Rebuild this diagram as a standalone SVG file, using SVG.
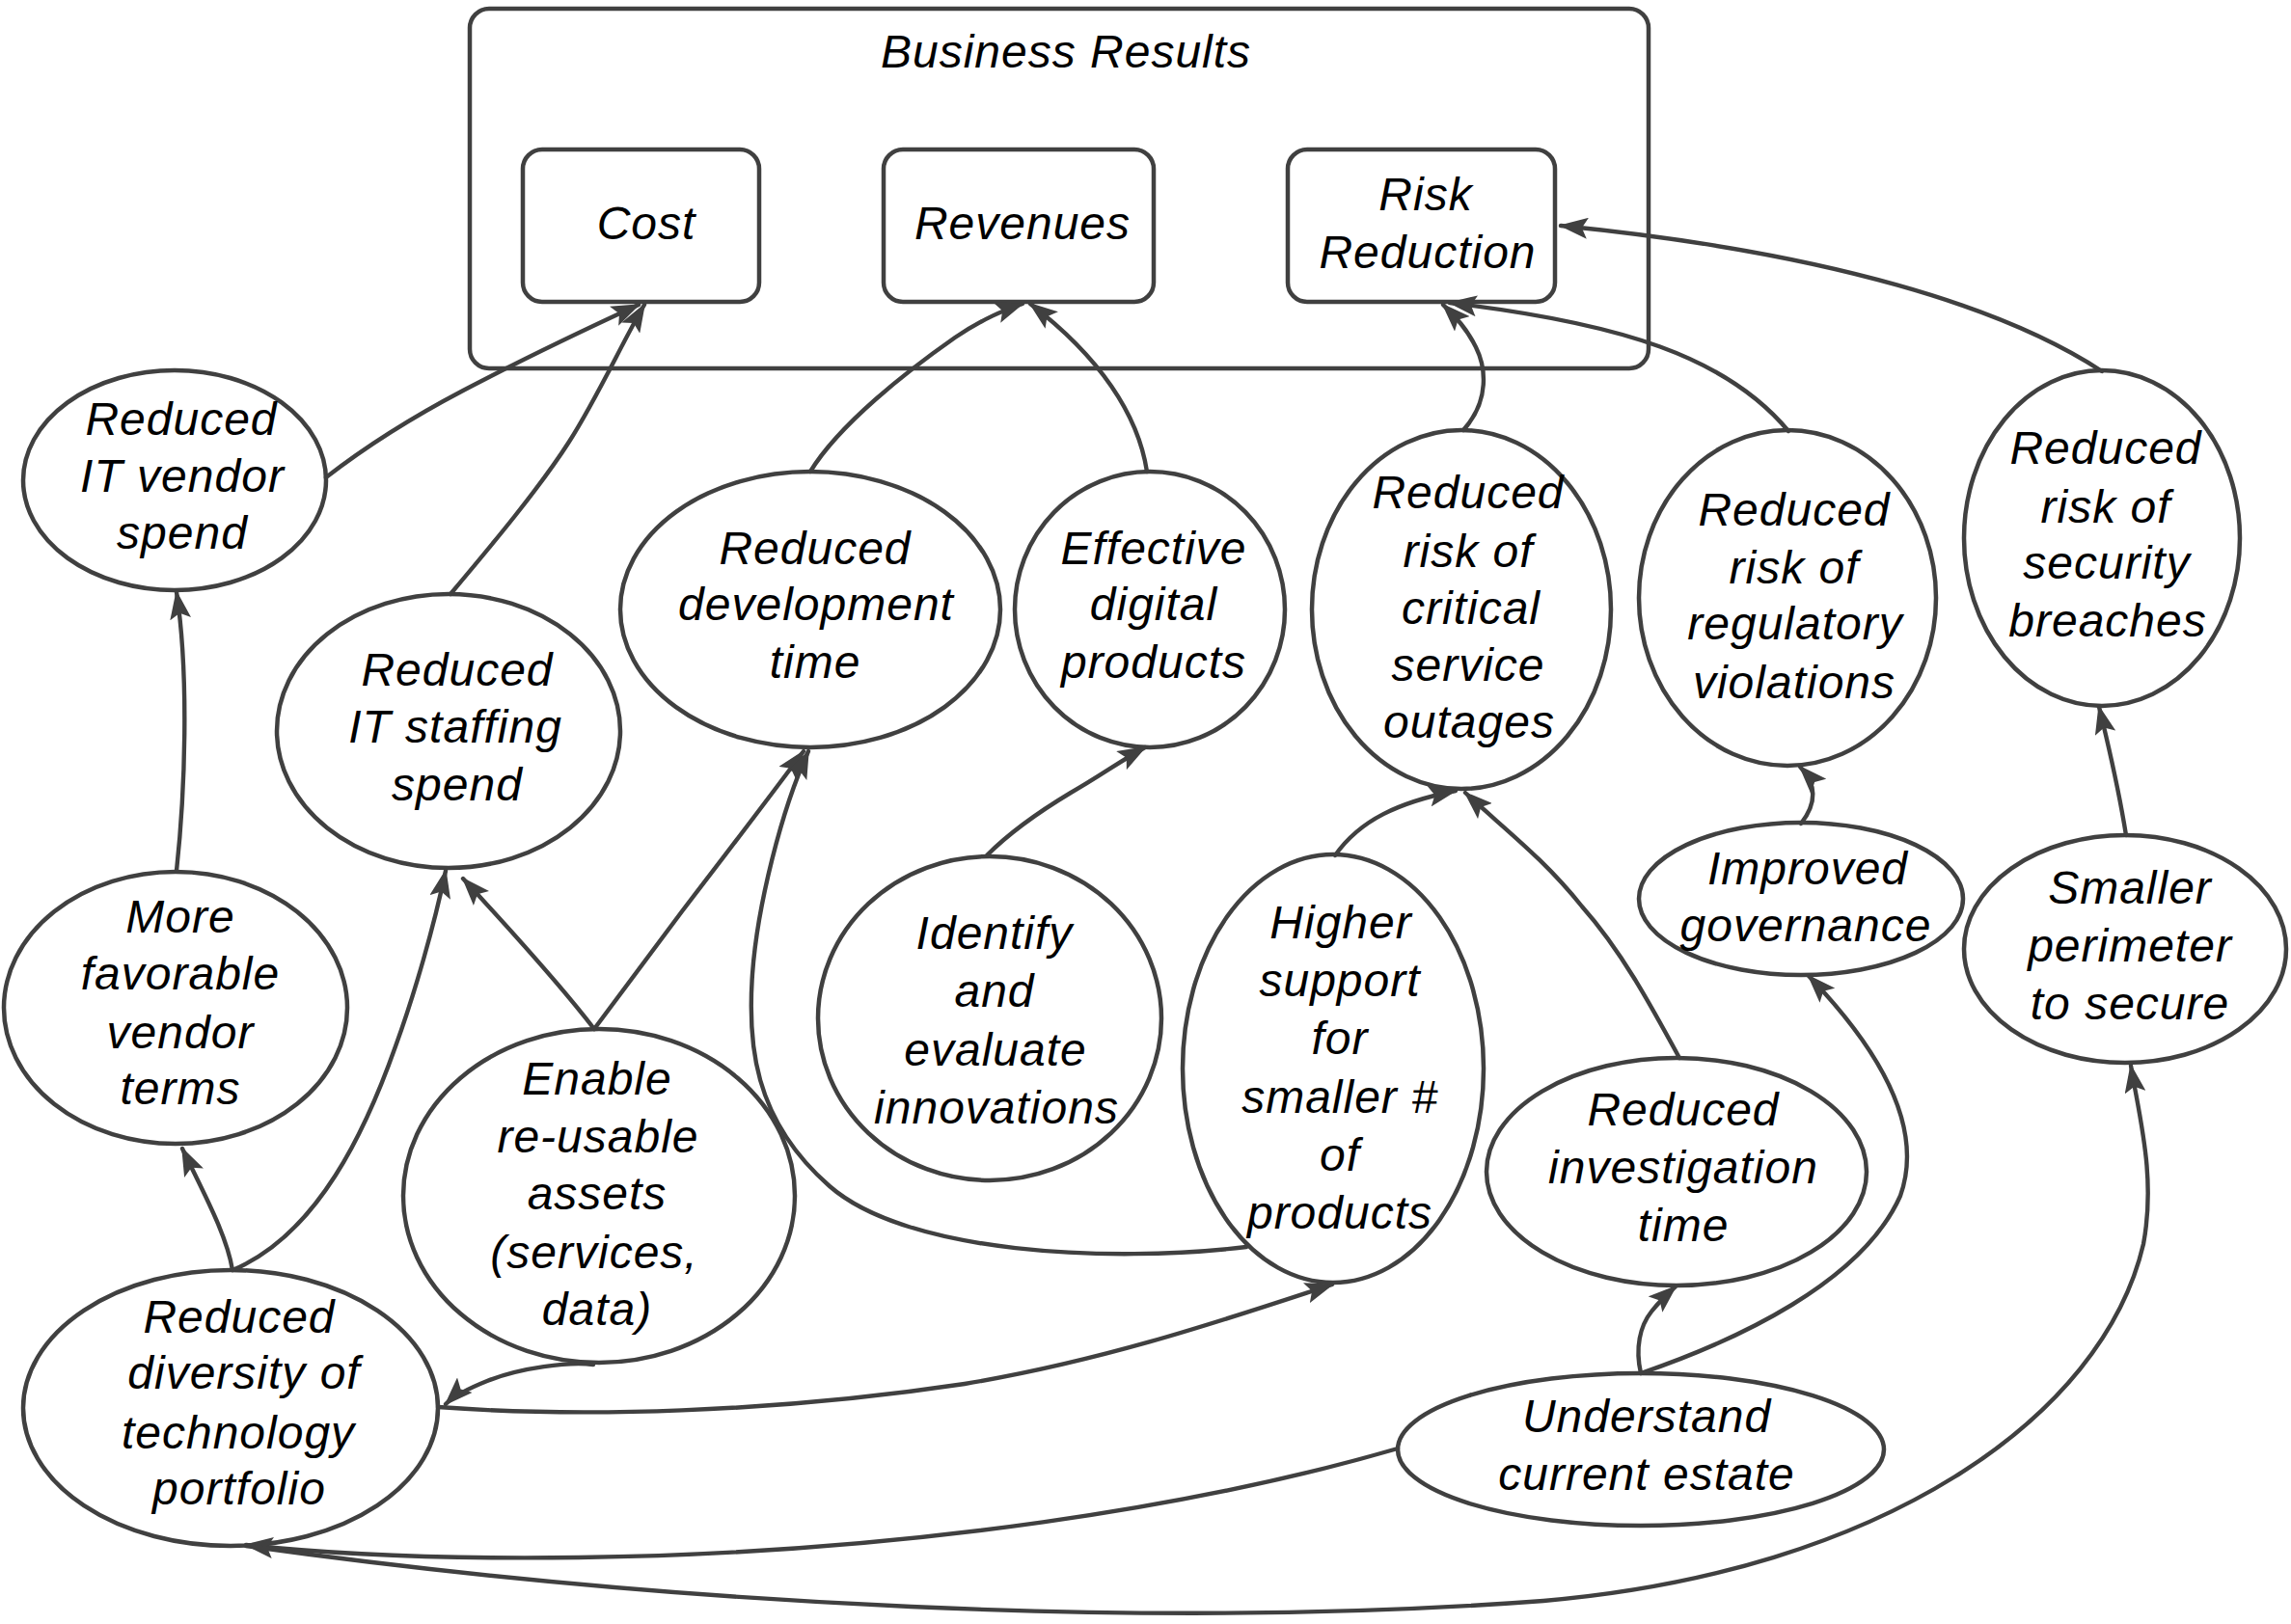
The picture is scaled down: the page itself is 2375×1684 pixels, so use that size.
<svg xmlns="http://www.w3.org/2000/svg" width="2375" height="1684" viewBox="0 0 2375 1684">
<defs>
<style>
.bg{fill:#ffffff}
.node{fill:#ffffff;stroke:#404040;stroke-width:4.5}
.frame{fill:none;stroke:#404040;stroke-width:4.5}
.edge{fill:none;stroke:#404040;stroke-width:4.4;stroke-linecap:round;marker-end:url(#arr)}
text{font-family:"Liberation Sans",Arial,sans-serif;font-style:italic;font-size:48px;fill:#000;text-anchor:middle;letter-spacing:1px}
</style>
<marker id="arr" viewBox="0 0 30 22" refX="28" refY="11" markerWidth="30" markerHeight="22" markerUnits="userSpaceOnUse" orient="auto">
<path d="M0,0 L30,11 L0,22 L6,11 z" fill="#404040"/>
</marker>
</defs>
<rect class="bg" x="0" y="0" width="2375" height="1684"/>

<g id="business-results">
<rect class="frame" x="487" y="9" width="1222" height="373" rx="20"/>
<text x="1105" y="70">Business Results</text>
</g>

<g id="cost">
<rect class="node" x="542" y="155" width="245" height="158" rx="20"/>
<text x="670" y="248">Cost</text>
</g>
<g id="revenues">
<rect class="node" x="916" y="155" width="280" height="158" rx="20"/>
<text x="1060" y="248">Revenues</text>
</g>
<g id="risk-reduction">
<rect class="node" x="1335" y="155" width="277" height="158" rx="20"/>
<text x="1478" y="218">Risk</text>
<text x="1480" y="278">Reduction</text>
</g>

<g id="vendor-spend">
<ellipse class="node" cx="181" cy="498" rx="157" ry="114"/>
<text x="188" y="451">Reduced</text>
<text x="189" y="510">IT vendor</text>
<text x="189" y="569">spend</text>
</g>
<g id="staffing-spend">
<ellipse class="node" cx="465" cy="758" rx="178" ry="142"/>
<text x="474" y="711">Reduced</text>
<text x="472" y="770">IT staffing</text>
<text x="474" y="830">spend</text>
</g>
<g id="dev-time">
<ellipse class="node" cx="840" cy="632" rx="197" ry="143"/>
<text x="845" y="585">Reduced</text>
<text x="846" y="643">development</text>
<text x="845" y="703">time</text>
</g>
<g id="digital-products">
<ellipse class="node" cx="1192" cy="632" rx="140" ry="143"/>
<text x="1196" y="585">Effective</text>
<text x="1196" y="643">digital</text>
<text x="1196" y="703">products</text>
</g>
<g id="service-outages">
<ellipse class="node" cx="1515" cy="632" rx="155" ry="186"/>
<text x="1522" y="527">Reduced</text>
<text x="1522" y="588">risk of</text>
<text x="1525" y="647">critical</text>
<text x="1522" y="706">service</text>
<text x="1523" y="765">outages</text>
</g>
<g id="regulatory-violations">
<ellipse class="node" cx="1853" cy="620" rx="154" ry="174"/>
<text x="1860" y="545">Reduced</text>
<text x="1860" y="605">risk of</text>
<text x="1861" y="663">regulatory</text>
<text x="1860" y="724">violations</text>
</g>
<g id="security-breaches">
<ellipse class="node" cx="2179" cy="558" rx="143" ry="174"/>
<text x="2183" y="481">Reduced</text>
<text x="2183" y="542">risk of</text>
<text x="2184" y="600">security</text>
<text x="2185" y="660">breaches</text>
</g>
<g id="improved-governance">
<ellipse class="node" cx="1867" cy="932" rx="168" ry="79"/>
<text x="1874" y="917">Improved</text>
<text x="1872" y="976">governance</text>
</g>
<g id="smaller-perimeter">
<ellipse class="node" cx="2203" cy="984" rx="167" ry="118"/>
<text x="2208" y="937">Smaller</text>
<text x="2208" y="997">perimeter</text>
<text x="2208" y="1057">to secure</text>
</g>
<g id="vendor-terms">
<ellipse class="node" cx="182" cy="1045" rx="178" ry="141"/>
<text x="187" y="967">More</text>
<text x="187" y="1026">favorable</text>
<text x="187" y="1087">vendor</text>
<text x="187" y="1145">terms</text>
</g>
<g id="reusable-assets">
<ellipse class="node" cx="621" cy="1240" rx="203" ry="173"/>
<text x="619" y="1135">Enable</text>
<text x="620" y="1195">re-usable</text>
<text x="619" y="1254">assets</text>
<text x="616" y="1315">(services,</text>
<text x="619" y="1374">data)</text>
</g>
<g id="innovations">
<ellipse class="node" cx="1026" cy="1056" rx="178" ry="168"/>
<text x="1031" y="984">Identify</text>
<text x="1031" y="1044">and</text>
<text x="1032" y="1105">evaluate</text>
<text x="1033" y="1165">innovations</text>
</g>
<g id="higher-support">
<ellipse class="node" cx="1382" cy="1108" rx="156" ry="222"/>
<text x="1390" y="973">Higher</text>
<text x="1389" y="1033">support</text>
<text x="1389" y="1093">for</text>
<text x="1389" y="1154">smaller #</text>
<text x="1389" y="1214">of</text>
<text x="1389" y="1274">products</text>
</g>
<g id="investigation-time">
<ellipse class="node" cx="1738" cy="1215" rx="197" ry="118"/>
<text x="1745" y="1167">Reduced</text>
<text x="1745" y="1227">investigation</text>
<text x="1745" y="1287">time</text>
</g>
<g id="current-estate">
<ellipse class="node" cx="1701" cy="1503" rx="252" ry="79"/>
<text x="1707" y="1485">Understand</text>
<text x="1707" y="1545">current estate</text>
</g>
<g id="technology-diversity">
<ellipse class="node" cx="239" cy="1460" rx="215" ry="143"/>
<text x="248" y="1382">Reduced</text>
<text x="253" y="1440">diversity of</text>
<text x="247" y="1502">technology</text>
<text x="248" y="1560">portfolio</text>
</g>

<g id="connectors">
<path class="edge" d="M338,495 Q400,447 480,405 T662,316"/>
<path class="edge" d="M467,616 C510,565 560,505 590,458 S645,355 668,316"/>
<path class="edge" d="M840,489 C870,440 940,385 990,350 C1020,330 1040,322 1060,315"/>
<path class="edge" d="M1189,489 C1180,430 1140,370 1068,315"/>
<path class="edge" d="M1517,446 C1545,415 1540,380 1530,360 C1520,340 1510,330 1496,316"/>
<path class="edge" d="M1854,447 C1790,370 1680,335 1503,314"/>
<path class="edge" d="M2179,385 C2080,320 1900,262 1618,234"/>
<path class="edge" d="M1867,854 C1882,835 1885,815 1866,795"/>
<path class="edge" d="M2204,866 C2195,810 2185,770 2176,733"/>
<path class="edge" d="M1384,887 C1410,850 1450,832 1509,820"/>
<path class="edge" d="M1741,1097 C1710,1040 1680,985 1640,940 C1600,890 1560,860 1519,822"/>
<path class="edge" d="M183,903 C192,820 196,700 183,614"/>
<path class="edge" d="M241,1317 C235,1280 210,1235 189,1191"/>
<path class="edge" d="M241,1317 C330,1280 380,1170 410,1085 C430,1030 450,960 462,903"/>
<path class="edge" d="M616,1067 C580,1020 530,965 480,911"/>
<path class="edge" d="M616,1067 L707,945 Q780,850 833,779"/>
<path class="edge" d="M1292,1293 C1150,1310 940,1300 860,1230 C780,1160 775,1080 780,1010 C785,940 810,840 838,779"/>
<path class="edge" d="M1023,887 C1050,860 1080,840 1110,822 C1140,805 1160,790 1187,775"/>
<path class="edge" d="M615,1415 C590,1412 540,1418 505,1432 C485,1440 470,1448 462,1456"/>
<path class="edge" d="M454,1459 C600,1470 800,1465 1000,1435 C1150,1410 1280,1365 1381,1332"/>
<path class="edge" d="M1449,1502 C1250,1560 950,1610 600,1615 C450,1617 330,1610 255,1602"/>
<path class="edge" d="M255,1603 C700,1665 1200,1690 1600,1660 C1950,1630 2180,1470 2222,1290 C2235,1220 2218,1160 2209,1105"/>
<path class="edge" d="M1701,1424 C1695,1398 1700,1375 1712,1360 C1720,1350 1728,1342 1737,1334"/>
<path class="edge" d="M1701,1424 C1800,1390 1930,1330 1970,1240 C1995,1170 1950,1090 1875,1012"/>
</g>
</svg>
